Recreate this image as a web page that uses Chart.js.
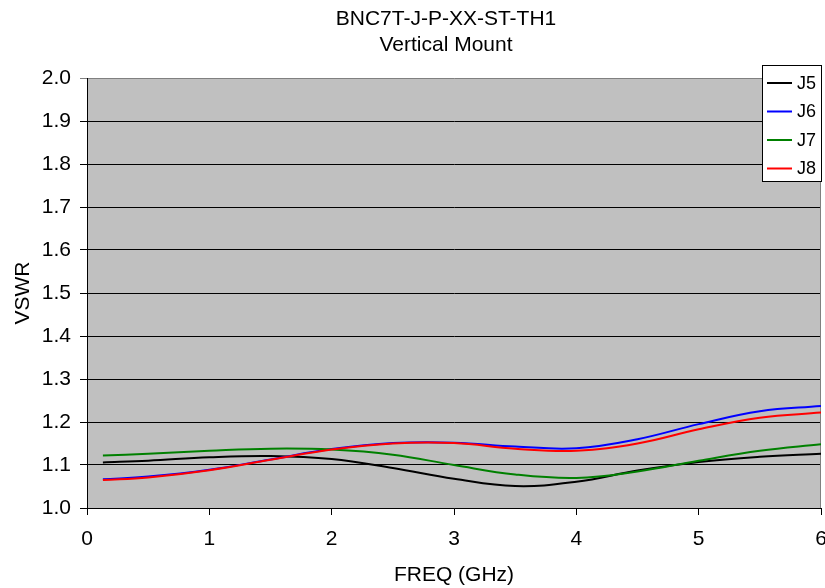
<!DOCTYPE html>
<html><head><meta charset="utf-8">
<script src="https://cdn.jsdelivr.net/npm/chart.js@4/dist/chart.umd.min.js"></script>
<style>html,body{margin:0;padding:0;background:#fff}#wrap{width:825px;height:588px}</style>
</head><body><div id="wrap"><canvas id="c" width="825" height="588"></canvas></div>
<script>
const freqGHz = [0.13, 0.5, 1.0, 1.5, 2.0, 2.5, 3.0, 3.5, 4.0, 4.5, 5.0, 5.5, 6.0];
const vswrJ5 = [1.106, 1.110, 1.118, 1.121, 1.114, 1.093, 1.068, 1.051, 1.061, 1.087, 1.107, 1.119, 1.126];
const vswrJ6 = [1.067, 1.073, 1.089, 1.113, 1.137, 1.151, 1.152, 1.143, 1.139, 1.160, 1.195, 1.225, 1.237];
const vswrJ7 = [1.122, 1.126, 1.133, 1.138, 1.136, 1.124, 1.100, 1.078, 1.070, 1.085, 1.110, 1.133, 1.148];
const vswrJ8 = [1.065, 1.071, 1.088, 1.112, 1.136, 1.150, 1.151, 1.138, 1.133, 1.150, 1.183, 1.210, 1.222];
const seriesNames = ['J5', 'J6', 'J7', 'J8'];
const seriesColors = ['#000000', '#0000ff', '#008000', '#ff0000'];
const titleLines = ['BNC7T-J-P-XX-ST-TH1', 'Vertical Mount'];
const xAxisTitle = 'FREQ (GHz)';
const yAxisTitle = 'VSWR';

const FONT = 'Liberation Sans, Arial, sans-serif';
const allSeries = [vswrJ5, vswrJ6, vswrJ7, vswrJ8];
const drawOrder = [3, 2, 1, 0];

const datasets = allSeries.map((vals, i) => ({
  label: seriesNames[i],
  data: vals.map((v, j) => ({x: freqGHz[j], y: v})),
  borderColor: seriesColors[i],
  backgroundColor: seriesColors[i],
  borderWidth: 2,
  pointRadius: 0,
  tension: 0.4,
  fill: false,
  order: drawOrder[i]
}));

const plotBg = {
  id: 'plotBg',
  beforeDraw(chart) {
    const {ctx, chartArea: a} = chart;
    ctx.save();
    ctx.fillStyle = '#c0c0c0';
    ctx.fillRect(a.left, a.top, a.right - a.left, a.bottom - a.top);
    ctx.restore();
  },
  beforeDatasetsDraw(chart) {
    const {ctx, chartArea: a} = chart;
    ctx.save();
    ctx.strokeStyle = '#808080';
    ctx.lineWidth = 1;
    ctx.beginPath();
    ctx.moveTo(Math.round(a.right) - 0.5, a.top);
    ctx.lineTo(Math.round(a.right) - 0.5, a.bottom);
    ctx.stroke();
    ctx.restore();
  }
};

const twoLineTitle = {
  id: 'twoLineTitle',
  afterDraw(chart) {
    const {ctx} = chart;
    ctx.save();
    ctx.fillStyle = '#000';
    ctx.font = '21px ' + FONT;
    ctx.textAlign = 'center';
    ctx.textBaseline = 'middle';
    titleLines.forEach((t, i) => ctx.fillText(t, 446, 19 + i * 26));
    ctx.restore();
  }
};

const boxLegend = {
  id: 'boxLegend',
  afterDraw(chart) {
    const {ctx} = chart;
    const left = 762.5, top = 65.5, w = 59, h = 116;
    ctx.save();
    ctx.fillStyle = '#ffffff';
    ctx.fillRect(left, top, w, h);
    ctx.strokeStyle = '#000000';
    ctx.lineWidth = 1;
    ctx.strokeRect(left, top, w, h);
    ctx.font = '18px ' + FONT;
    ctx.textBaseline = 'middle';
    chart.data.datasets.forEach((ds, i) => {
      const y = 83 + i * 28.5;
      ctx.strokeStyle = ds.borderColor;
      ctx.lineWidth = 2;
      ctx.beginPath();
      ctx.moveTo(767, y);
      ctx.lineTo(792, y);
      ctx.stroke();
      ctx.fillStyle = '#000';
      ctx.fillText(ds.label, 797, y + 1);
    });
    ctx.restore();
  }
};

new Chart(document.getElementById('c'), {
  type: 'line',
  data: {datasets},
  plugins: [plotBg, boxLegend, twoLineTitle],
  options: {
    responsive: false,
    animation: false,
    devicePixelRatio: 1,
    layout: {padding: {left: 0, right: 4, top: 78, bottom: 0}},
    plugins: {
      legend: {display: false},
      tooltip: {enabled: false},
      title: {display: false}
    },
    scales: {
      x: {
        type: 'linear', min: 0, max: 6,
        ticks: {stepSize: 1, color: '#000', font: {family: FONT, size: 21}, padding: 12, maxRotation: 0},
        grid: {drawOnChartArea: false, drawTicks: true, tickLength: 7, color: '#000'},
        border: {color: '#000', width: 1},
        title: {display: true, text: xAxisTitle, color: '#000', font: {family: FONT, size: 21}, padding: {top: 0, bottom: 0}},
        afterFit(s) { s.height = 80; s.paddingLeft = 0; s.paddingRight = 0; }
      },
      y: {
        min: 1, max: 2,
        ticks: {stepSize: 0.1, color: '#000', font: {family: FONT, size: 21}, padding: 9,
          callback: v => Number(v).toFixed(1)},
        grid: {tickLength: 7, color: c => (c.tick && c.tick.value > 1.999) ? '#808080' : '#000'},
        border: {color: '#000', width: 1},
        title: {display: true, text: yAxisTitle, color: '#000', font: {family: FONT, size: 21}, padding: {top: 11, bottom: 0}},
        afterFit(s) { s.width = 87; s.paddingTop = 0; s.paddingBottom = 0; }
      }
    }
  }
});
</script></body></html>
